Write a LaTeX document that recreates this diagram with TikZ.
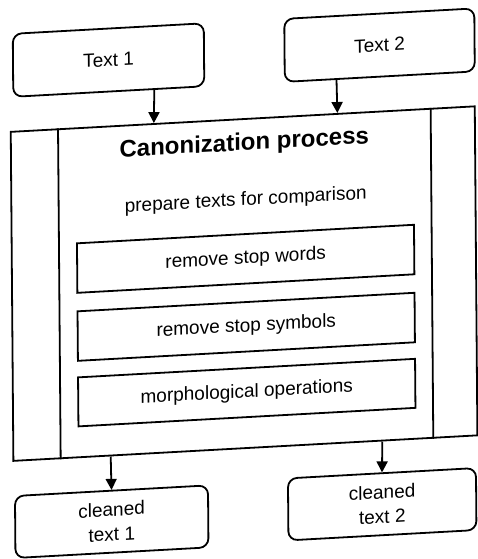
\documentclass[tikz,border=0pt]{standalone}
\usepackage{fontspec}
\setmainfont{Liberation Sans}
\usetikzlibrary{arrows.meta,calc}

\begin{document}
\begin{tikzpicture}[x=1pt,y=-1pt,
  line width=1.8pt,
  every node/.style={font=\fontsize{19}{24.5}\selectfont, align=center, inner sep=0pt},
  roundbox/.style={draw, rounded corners=9pt, minimum width=191pt, minimum height=63pt},
  stepbox/.style={draw, minimum width=337pt, minimum height=49.5pt},
  titletext/.style={font=\bfseries\fontsize{24}{28}\selectfont},
  flow/.style={-{Triangle[length=11pt,width=11pt]}},
]
\fill[white] (0,0) rectangle (477,559);
\useasboundingbox (0,0) rectangle (477,559);

% the whole sheet is drawn slightly skewed
\begin{scope}[cm={1,0.055,-0.008,1,(0,0)}, transform shape]
  % inputs
  \node[roundbox] (t1) at (108,66) {Text 1};
  \node[roundbox, minimum width=190pt] (t2) at (379,66) {Text 2};

  % process block with side bars
  \node[draw, minimum width=464pt, minimum height=329pt] (canon) at (241.7,296.9) {};
  \draw ($(canon.north west)!0.1034!(canon.north east)$) -- ($(canon.south west)!0.1034!(canon.south east)$);
  \draw ($(canon.north west)!0.9032!(canon.north east)$) -- ($(canon.south west)!0.9032!(canon.south east)$);

  \node[titletext] (title) at (243,157.5) {Canonization process};
  \node (prep) at (244,214) {prepare texts for comparison};
  \node[stepbox] (s1) at (243.5,272.2) {remove stop words};
  \node[stepbox] (s2) at (243.5,340.2) {remove stop symbols};
  \node[stepbox, minimum height=49pt] (s3) at (243.5,406) {morphological operations};

  % outputs
  \node[roundbox, minimum height=62pt, minimum width=193pt] (c1) at (107.5,527.6) {cleaned\\text 1};
  \node[roundbox, minimum height=62pt, minimum width=188pt] (c2) at (378,525) {cleaned\\text 2};

  % connectors
  \draw[flow] ($(t1.south west)!0.736!(t1.south east)$) -- ($(canon.north west)!0.309!(canon.north east)$);
  \draw[flow] ($(t2.south west)!0.274!(t2.south east)$) -- ($(canon.north west)!0.703!(canon.north east)$);
  \draw[flow] ($(canon.south west)!0.2108!(canon.south east)$) -- (c1.north);
  \draw[flow] ($(canon.south west)!0.7937!(canon.south east)$) -- (c2.north);
\end{scope}
\end{tikzpicture}
\end{document}
